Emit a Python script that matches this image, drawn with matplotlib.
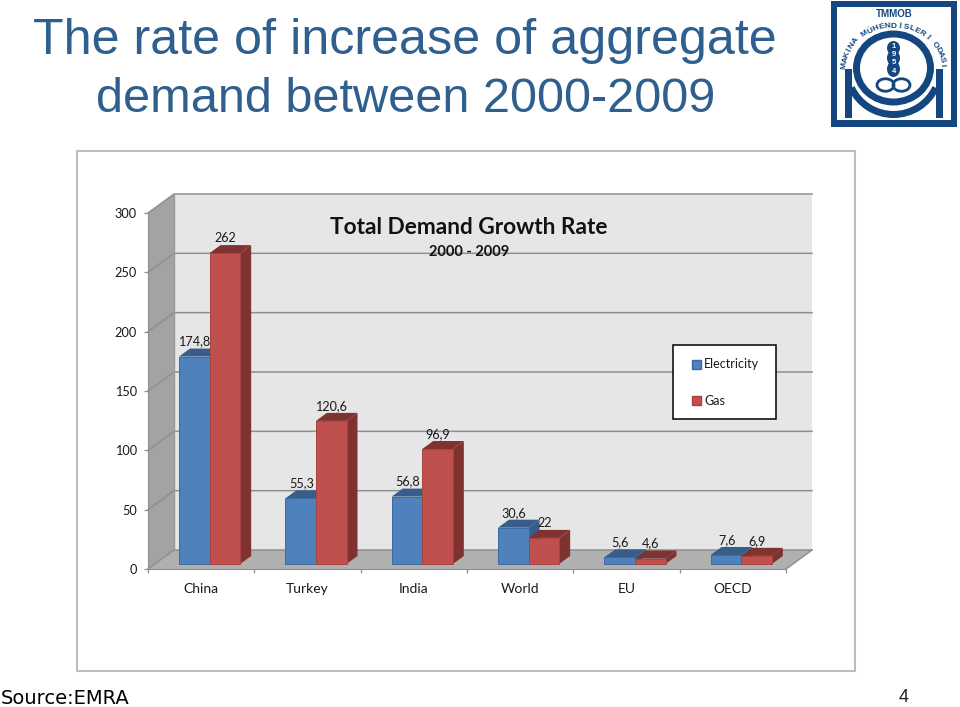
import numpy as np
from matplotlib import pyplot as plt
from matplotlib.patches import Rectangle, Patch, Wedge, Ellipse

categories = ['China', 'Turkey', 'India', 'World', 'EU', 'OECD']
electricity = [174.8, 55.3, 56.8, 30.6, 5.6, 7.6]
gas = [262, 120.6, 96.9, 22, 4.6, 6.9]
electricity_labels = ['174,8', '55,3', '56,8', '30,6', '5,6', '7,6']
gas_labels = ['262', '120,6', '96,9', '22', '4,6', '6,9']
y_ticks = [0, 50, 100, 150, 200, 250, 300]

W, H = 960, 707
plt.rcParams['font.family'] = ['Lato', 'DejaVu Sans']

fig = plt.figure(figsize=(W / 100, H / 100), dpi=100, facecolor='white')


def box(x0, y0, x1, y1):
    # pixel box (y from the top) to figure fractions
    return [x0 / W, 1 - y1 / H, (x1 - x0) / W, (y1 - y0) / H]


def put(x, y, s, **kw):
    fig.text(x / W, 1 - y / H, s, **kw)


# page text
title_color = '#2F5F8F'
put(33, 41, 'The rate of increase of aggregate', family='Liberation Sans', fontsize=36.2,
    color=title_color, va='center')
put(96, 100, 'demand between 2000-2009', family='Liberation Sans', fontsize=35,
    color=title_color, va='center')
put(1, 698, 'Source:EMRA', family='DejaVu Sans', fontsize=14, color='black', va='center')
put(904, 697, '4', family='Liberation Sans', fontsize=13, color='#222222', va='center', ha='center')

# chart frame
fig.patches.append(Rectangle((77 / W, 1 - 671 / H), 778 / W, 520 / H, transform=fig.transFigure,
                             facecolor='white', edgecolor='#BDBDBD', linewidth=1.5, zorder=-1))

# main axes is the front plane of the 3D box
ax = fig.add_axes(box(148, 213, 786, 569))
ax.set_xlim(0, len(categories))
ax.set_ylim(0, 300)
ax.patch.set_alpha(0)

# depth of the box and the bars, in data units
unit_x = 638 / 6
unit_y = 356 / 300
wall_dx, wall_dy = 26 / unit_x, 19 / unit_y
bar_dx, bar_dy = 11 / unit_x, 8 / unit_y
front_dx, front_dy = 8.4 / unit_x, 5 / unit_y
bar_w = 30.6 / unit_x

n = len(categories)
ax.fill([0, wall_dx, wall_dx, 0], [0, wall_dy, 300 + wall_dy, 300], color='#A3A3A3', lw=0, clip_on=False, zorder=1)
ax.fill([wall_dx, n + wall_dx, n + wall_dx, wall_dx], [wall_dy, wall_dy, 300 + wall_dy, 300 + wall_dy],
        color='#E6E6E6', lw=0, clip_on=False, zorder=1)
ax.fill([0, n, n + wall_dx, wall_dx], [0, 0, wall_dy, wall_dy], color='#B0B0B0', lw=0, clip_on=False, zorder=1)

for v in y_ticks:
    ax.plot([0, wall_dx, n + wall_dx], [v, v + wall_dy, v + wall_dy], color='#8F8F8F', lw=1.1,
            clip_on=False, zorder=2, solid_joinstyle='miter')
ax.plot([wall_dx, wall_dx], [wall_dy, 300 + wall_dy], color='#9A9A9A', lw=1, clip_on=False, zorder=2)
ax.plot([n, n + wall_dx], [0, wall_dy], color='#8F8F8F', lw=1.1, clip_on=False, zorder=2)


def draw_bars(left, values, face, dark, edge, z):
    ax.bar(left, values, width=bar_w, bottom=front_dy, align='edge', color=face, edgecolor=edge,
           linewidth=0.7, clip_on=False, zorder=z + 1)
    for l, v in zip(left, values):
        r = l + bar_w
        t = v + front_dy
        ax.fill([l, r, r + bar_dx, l + bar_dx], [t, t, t + bar_dy, t + bar_dy], color=dark, lw=0,
                clip_on=False, zorder=z)
        ax.fill([r, r + bar_dx, r + bar_dx, r], [front_dy, front_dy + bar_dy, t + bar_dy, t], color=dark, lw=0,
                clip_on=False, zorder=z)


x = np.arange(n)
blue_left = x + 0.5 + front_dx - bar_w
red_left = x + 0.5 + front_dx
for i in range(n):
    draw_bars(blue_left[[i]], [electricity[i]], '#4F81BD', '#385D8A', '#3B6A9F', 3 + 4 * i)
    draw_bars(red_left[[i]], [gas[i]], '#C0504D', '#7F3230', '#A84340', 5 + 4 * i)

for xs, vals, labs in [(blue_left, electricity, electricity_labels), (red_left, gas, gas_labels)]:
    for l, v, s in zip(xs, vals, labs):
        ax.annotate(s, (l + bar_w / 2, v + front_dy), xytext=(0.5, 10.8), textcoords='offset points',
                    ha='center', va='center', fontsize=9.1, color='#1A1A1A', zorder=60, annotation_clip=False)

ax.set_yticks(y_ticks)
ax.set_xticks(np.arange(n + 1))
ax.set_xticklabels([])
ax.tick_params(axis='both', length=3, width=0.9, color='#8F8F8F', labelsize=9.2, labelcolor='#1A1A1A', pad=5)
for name, sp in ax.spines.items():
    sp.set_visible(name in ('left', 'bottom'))
    sp.set_color('#8F8F8F')
    sp.set_zorder(2)
for i, c in enumerate(categories):
    ax.annotate(c, (i + 0.5, 0), xytext=(0, -14.2), textcoords='offset points', ha='center', va='center',
                fontsize=10, color='#1A1A1A', annotation_clip=False)

put(469, 228, 'Total Demand Growth Rate', fontsize=16.3, fontweight='bold', color='#111111',
    ha='center', va='center', zorder=70)
put(469, 252, '2000 - 2009', fontsize=10.5, fontweight='bold', color='#111111',
    ha='center', va='center', zorder=70)

# legend box has its own frame so the padding can differ per side
ax.add_patch(Rectangle((673 / W, 1 - 418.7 / H), 103 / W, 74.2 / H, transform=fig.transFigure, facecolor='white',
                       edgecolor='black', linewidth=1.1, clip_on=False, zorder=79))
handles = [Patch(facecolor='#4F81BD', edgecolor='#3B6A9F', label='Electricity'),
           Patch(facecolor='#C0504D', edgecolor='#A84340', label='Gas')]
leg = ax.legend(handles=handles, loc='upper left', bbox_to_anchor=(692 / W, 1 - 358.5 / H),
                bbox_transform=fig.transFigure, fontsize=9, frameon=False, borderpad=0, labelspacing=1.95,
                handlelength=0.72, handleheight=0.72, handletextpad=0.25, borderaxespad=0, labelcolor='#1A1A1A')
leg.set_zorder(80)

# logo, drawn in its own pixel box
navy = '#14477F'
cx, cy = 893.5, 68
lg = fig.add_axes(box(831, 1, 957, 127))
lg.set_xlim(831, 957)
lg.set_ylim(127, 1)
lg.axis('off')
lg.add_patch(Rectangle((831, 1), 126, 126, facecolor=navy, lw=0))
lg.add_patch(Rectangle((837, 7), 114, 113, facecolor='white', lw=0))
# verticals and the lower arc of the M
lg.add_patch(Rectangle((845, 69), 7, 49, facecolor=navy, lw=0))
lg.add_patch(Rectangle((936, 69), 6.5, 49, facecolor=navy, lw=0))
lg.add_patch(Wedge((cx, cy), 50, 25, 155, width=7, facecolor=navy, lw=0))
# ring
lg.add_patch(Ellipse((cx, cy), 74, 68, facecolor='none', edgecolor=navy, lw=5))
# 1954 pill and infinity
for yy, h in zip((48, 58, 69), (14, 16, 16)):
    lg.add_patch(Ellipse((cx, yy), 13, h, facecolor=navy, lw=0))
for s, yy in zip('1954', (46, 54.5, 63, 71.5)):
    lg.text(cx, yy, s, color='white', fontsize=5.5, fontweight='bold', ha='center', va='center',
            family='Liberation Sans')
for lobe in (885.5, 901.5):
    lg.add_patch(Ellipse((lobe, 85), 17, 12.5, facecolor='none', edgecolor=navy, lw=2))
lg.text(cx + 0.5, 14, 'TMMOB', color=navy, fontsize=7, fontweight='bold', ha='center', va='center',
        family='Liberation Sans')
arc_text = 'MAKİNA MÜHENDİSLERİ ODASI'
for s, a in zip(arc_text, np.linspace(176, 4, len(arc_text))):
    px = cx + 49 * np.cos(np.radians(a))
    py = cy - 42 * np.sin(np.radians(a))
    lg.text(px, py, s, color=navy, fontsize=6, fontweight='bold', ha='center', va='center',
            rotation=a - 90, family='Liberation Sans')

fig.savefig('out.png', dpi=100)
